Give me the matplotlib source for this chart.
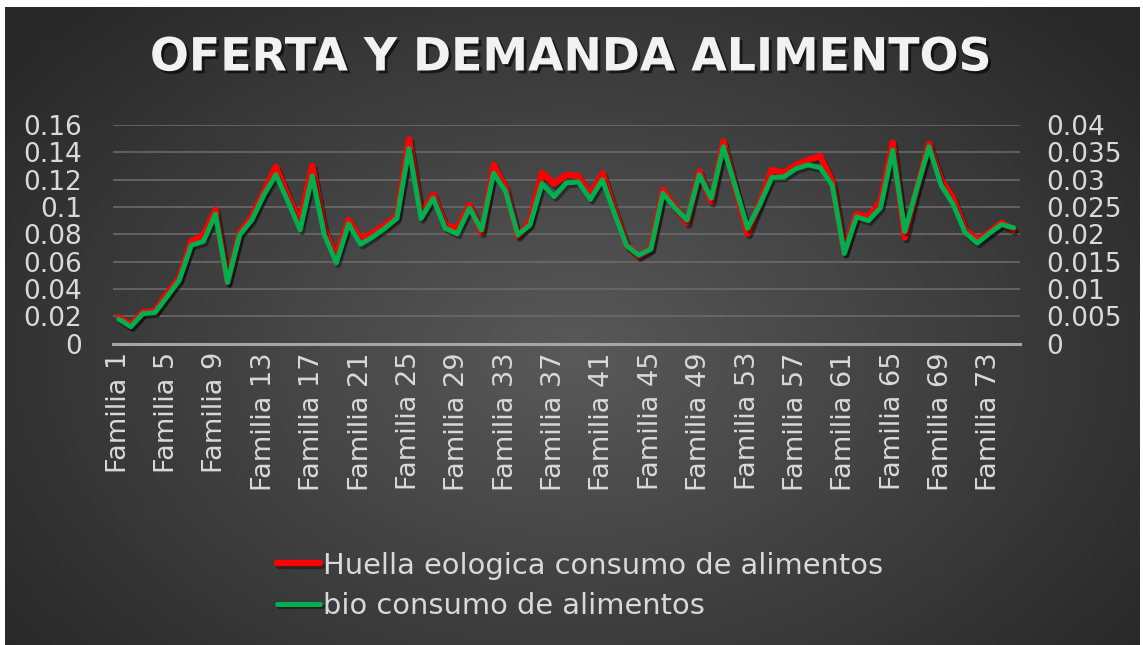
import matplotlib.pyplot as plt
import matplotlib.patheffects as pe
import numpy as np

familias = ["Familia %d" % i for i in range(1, 76)]

huella = [0.0193, 0.0137, 0.0232, 0.0237, 0.0368, 0.0478, 0.0750, 0.0795, 0.0978, 0.0454,
          0.0812, 0.0930, 0.1110, 0.1295, 0.1076, 0.0893, 0.1300, 0.0832, 0.0637, 0.0905,
          0.0770, 0.0807, 0.0868, 0.0934, 0.1495, 0.0940, 0.1090, 0.0868, 0.0844, 0.1015,
          0.0815, 0.1307, 0.1137, 0.0788, 0.0893, 0.1250, 0.1170, 0.1234, 0.1227, 0.1088,
          0.1246, 0.0978, 0.0722, 0.0641, 0.0698, 0.1124, 0.1002, 0.0885, 0.1259, 0.1040,
          0.1478, 0.1137, 0.0807, 0.1027, 0.1271, 0.1250, 0.1307, 0.1344, 0.1373, 0.1185,
          0.0673, 0.0949, 0.0930, 0.1040, 0.1471, 0.0778, 0.1137, 0.1461, 0.1198, 0.1063,
          0.0832, 0.0759, 0.0815, 0.0885, 0.0832]

bio = [0.0045, 0.0031, 0.0055, 0.0057, 0.0086, 0.0116, 0.0180, 0.0187, 0.0237, 0.0112,
       0.0199, 0.0226, 0.0272, 0.0309, 0.0260, 0.0208, 0.0307, 0.0199, 0.0148, 0.0219,
       0.0182, 0.0195, 0.0211, 0.0229, 0.0357, 0.0229, 0.0266, 0.0211, 0.0201, 0.0248,
       0.0208, 0.0312, 0.0278, 0.0199, 0.0217, 0.0293, 0.0269, 0.0294, 0.0296, 0.0264,
       0.0300, 0.0238, 0.0179, 0.0162, 0.0173, 0.0275, 0.0248, 0.0226, 0.0309, 0.0266,
       0.0360, 0.0286, 0.0211, 0.0254, 0.0304, 0.0305, 0.0320, 0.0327, 0.0322, 0.0290,
       0.0165, 0.0232, 0.0225, 0.0249, 0.0354, 0.0205, 0.0284, 0.0360, 0.0290, 0.0255,
       0.0203, 0.0184, 0.0202, 0.0218, 0.0212]

left_ticks = [0, 0.02, 0.04, 0.06, 0.08, 0.1, 0.12, 0.14, 0.16]
right_ticks = [0, 0.005, 0.01, 0.015, 0.02, 0.025, 0.03, 0.035, 0.04]

txt = '#d9d9d9'
W, H = 1143, 645
fig = plt.figure(figsize=(W / 100, H / 100), dpi=100, facecolor='white')

# dark radial background
bg = fig.add_axes([5 / W, 0, (1140 - 5) / W, (H - 7) / H])
bg.set_axis_off()
yy, xx = np.mgrid[0:1:300j, 0:1:500j]
r = np.sqrt(((xx - 0.5) / 0.62) ** 2 + ((yy - 0.55) / 0.75) ** 2)
shade = np.clip(0.35 - 0.19 * r, 0.16, 0.35)
bg.imshow(np.dstack([shade, shade, shade]), aspect='auto', extent=[0, 1, 0, 1])

ax = fig.add_axes([112.7 / W, (H - 343.7) / H, 907 / W, 218.7 / H])
ax.patch.set_visible(False)
ax2 = ax.twinx()
x = np.arange(len(familias))

shadow = [pe.SimpleLineShadow(offset=(1.5, -2), shadow_color='black', alpha=0.4), pe.Normal()]
l1, = ax.plot(x, huella, color='#ff0000', lw=4.6, solid_capstyle='round', solid_joinstyle='round',
              label='Huella eologica consumo de alimentos', path_effects=shadow, zorder=3)
l2, = ax2.plot(x, bio, color='#00b050', lw=3.6, solid_capstyle='round', solid_joinstyle='round',
               label='bio consumo de alimentos', path_effects=shadow, zorder=3)

ax.set_xlim(-0.5, len(familias) - 0.5)
ax.set_ylim(0, 0.16)
ax2.set_ylim(0, 0.04)
ax.set_yticks(left_ticks)
ax.set_yticklabels(['0', '0.02', '0.04', '0.06', '0.08', '0.1', '0.12', '0.14', '0.16'])
ax2.set_yticks(right_ticks)
ax2.set_yticklabels(['0', '0.005', '0.01', '0.015', '0.02', '0.025', '0.03', '0.035', '0.04'])
ax.set_xticks(x[::4])
ax.set_xticklabels(familias[::4], rotation=90)

ax.grid(axis='y', color='#6a6a6a', lw=1.2, zorder=0)
ax.set_axisbelow(True)
for a in (ax, ax2):
    for s in a.spines.values():
        s.set_visible(False)
    a.tick_params(length=0, colors=txt, labelsize=19)
ax.spines['bottom'].set_visible(True)
ax.spines['bottom'].set_color('#a6a6a6')
ax.spines['bottom'].set_linewidth(2.2)
ax.tick_params(axis='y', pad=22)
ax.tick_params(axis='x', pad=6, labelsize=19.5)
ax2.tick_params(axis='y', pad=19)

fig.text(0.5, (H - 58) / H, 'OFERTA Y DEMANDA ALIMENTOS', ha='center', va='center',
         fontsize=33, fontweight='bold', color='#f2f2f2',
         path_effects=[pe.withSimplePatchShadow(offset=(2, -2), shadow_rgbFace='black', alpha=0.6)])

leg = fig.legend(handles=[l1, l2], loc='upper left', bbox_to_anchor=(265 / W, (H - 540) / H),
                 frameon=False, fontsize=20.8, handlelength=1.5, handletextpad=0.1,
                 labelspacing=0.42, borderaxespad=0)
for t in leg.get_texts():
    t.set_color(txt)

fig.savefig('out.png', dpi=100, facecolor='white')
